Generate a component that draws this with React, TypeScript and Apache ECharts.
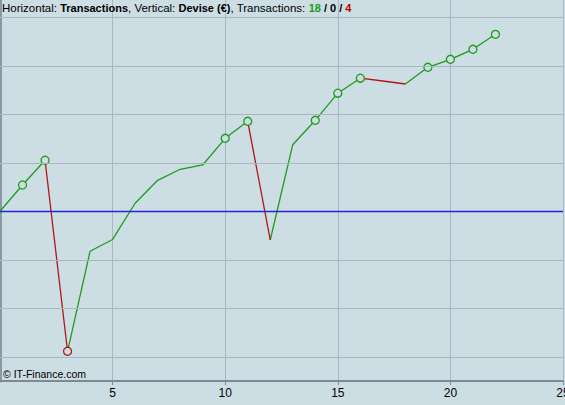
import React, { useEffect, useRef } from "react";
import * as echarts from "echarts";

// Trade numbers (horizontal) and cumulative result in € (vertical)
const trades = [0, 1, 2, 3, 4, 5, 6, 7, 8, 9, 10, 11, 12, 13, 14, 15, 16, 17, 18, 19, 20, 21, 22];
const equity = [0, 542, 1052, -2887, -825, -581, 165, 639, 866, 955, 1505, 1856, -592, 1373, 1876, 2435, 2744, 2687, 2625, 2969, 3134, 3340, 3649];
const gridLevels = [-3000, -2000, -1000, 1000, 2000, 3000, 4000];
const winCount = 18;
const neutralCount = 0;
const lossCount = 4;

const BG = "#cddde4";
const GRID = "#a9b8c0";
const GREEN = "#1c9c1c";
const RED = "#b31414";
const FONT = "Liberation Sans, Arial, sans-serif";

function buildSegments() {
  const green: (number[] | null)[] = [];
  const red: (number[] | null)[] = [];
  let lastG = -2;
  let lastR = -2;
  for (let i = 1; i < equity.length; i++) {
    const up = equity[i] >= equity[i - 1];
    const list = up ? green : red;
    const last = up ? lastG : lastR;
    if (last !== i - 1) {
      if (list.length) list.push(null);
      list.push([trades[i - 1], equity[i - 1]]);
    }
    list.push([trades[i], equity[i]]);
    if (up) lastG = i;
    else lastR = i;
  }
  return { green, red };
}

function buildMarkers() {
  const highs: number[][] = [];
  const lows: number[][] = [];
  let mx = equity[0];
  let mn = equity[0];
  for (let i = 1; i < equity.length; i++) {
    if (equity[i] > mx) {
      mx = equity[i];
      highs.push([trades[i], equity[i]]);
    } else if (equity[i] < mn) {
      mn = equity[i];
      lows.push([trades[i], equity[i]]);
    }
  }
  return { highs, lows };
}

export default function App() {
  const ref = useRef<HTMLDivElement>(null);
  useEffect(() => {
    if (!ref.current) return;
    const chart = echarts.init(ref.current, undefined, { renderer: "svg" });
    const { green, red } = buildSegments();
    const { highs, lows } = buildMarkers();
    chart.setOption({
      animation: false,
      backgroundColor: BG,
      title: {
        left: 2,
        top: 2,
        padding: 0,
        text:
          "{n|Horizontal: }{b|Transactions}{n|, Vertical: }{b|Devise (€)}{n|, Transactions: }{g|" +
          winCount +
          "}{b| / " +
          neutralCount +
          " / }{r|" +
          lossCount +
          "}",
        textStyle: {
          fontSize: 12,
          fontWeight: "normal",
          fontFamily: FONT,
          rich: {
            n: { fontSize: 11.5, fontFamily: FONT, color: "#000", fontWeight: "normal" },
            b: { fontSize: 11, fontFamily: FONT, color: "#000", fontWeight: "bold" },
            g: { fontSize: 11, fontFamily: FONT, color: GREEN, fontWeight: "bold" },
            r: { fontSize: 11, fontFamily: FONT, color: "#c00000", fontWeight: "bold" },
          },
        },
      },
      graphic: [
        {
          type: "text",
          left: 3,
          top: 368,
          z: 100,
          style: { text: "© IT-Finance.com", fontSize: 10.5, fontFamily: FONT, fill: "#000" },
        },
      ],
      grid: { left: 0, right: 2, top: 0, bottom: 24, containLabel: false, outerBoundsMode: "none" },
      xAxis: {
        type: "value",
        min: 0,
        max: 25,
        interval: 5,
        axisLine: { show: true, onZero: false, lineStyle: { color: "#7b8a94", width: 2 } },
        axisTick: { show: true, length: 4, lineStyle: { color: "#7b8a94", width: 1 } },
        axisLabel: {
          showMinLabel: false,
          color: "#000",
          fontSize: 12,
          fontFamily: FONT,
          margin: 6,
        },
        splitLine: { show: true, lineStyle: { color: GRID, width: 1 } },
      },
      yAxis: {
        type: "value",
        min: -3500,
        max: 4357,
        axisLine: { show: true, onZero: false, lineStyle: { color: "#8a99a3", width: 3 } },
        axisTick: { show: false },
        axisLabel: { show: false },
        splitLine: { show: false },
      },
      series: [
        {
          type: "line",
          data: [],
          z: 1,
          silent: true,
          markLine: {
            silent: true,
            symbol: ["none", "none"],
            label: { show: false },
            animation: false,
            data: [
              ...gridLevels.map((v) => ({ yAxis: v, lineStyle: { color: GRID, width: 1, type: "solid" } })),
              { yAxis: 0, lineStyle: { color: "#2626c8", width: 1.3, type: "solid" } },
            ],
          },
        },
        {
          type: "line",
          data: green,
          z: 3,
          symbol: "none",
          connectNulls: false,
          lineStyle: { color: GREEN, width: 1.3 },
          silent: true,
        },
        {
          type: "line",
          data: red,
          z: 3,
          symbol: "none",
          connectNulls: false,
          lineStyle: { color: RED, width: 1.3 },
          silent: true,
        },
        {
          type: "scatter",
          data: highs,
          z: 4,
          symbol: "circle",
          symbolSize: 8,
          itemStyle: { color: BG, borderColor: GREEN, borderWidth: 1.3, opacity: 1 },
          silent: true,
        },
        {
          type: "scatter",
          data: lows,
          z: 4,
          symbol: "circle",
          symbolSize: 8,
          itemStyle: { color: BG, borderColor: RED, borderWidth: 1.3, opacity: 1 },
          silent: true,
        },
      ],
    });
    return () => chart.dispose();
  }, []);
  return (
    <div
      ref={ref}
      style={{ position: "fixed", left: 0, top: 0, width: 565, height: 405 }}
    />
  );
}
